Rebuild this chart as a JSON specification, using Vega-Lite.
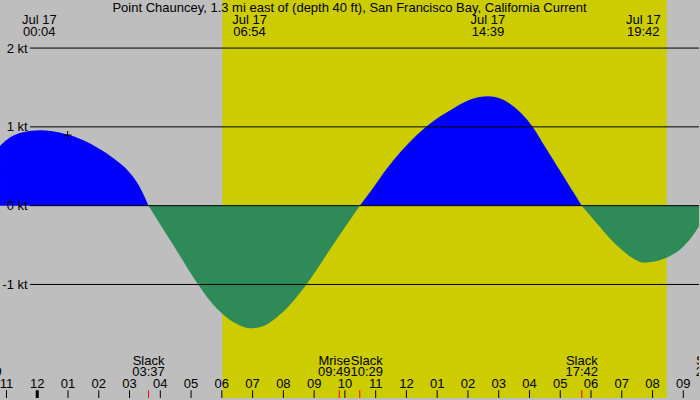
{
  "$schema": "https://vega.github.io/schema/vega-lite/v6.json",
  "width": 700,
  "height": 400,
  "padding": 0,
  "autosize": {"type": "fit", "contains": "padding"},
  "background": "#BEBEBE",
  "config": {"view": {"stroke": null}},
  "datasets": {
    "curve": [
      {"h": -1.21, "v": 0.758, "dir": "flood", "seg": "f1"},
      {"h": -0.89, "v": 0.864, "dir": "flood", "seg": "f1"},
      {"h": -0.5, "v": 0.928, "dir": "flood", "seg": "f1"},
      {"h": 0.09, "v": 0.956, "dir": "flood", "seg": "f1"},
      {"h": 0.5, "v": 0.943, "dir": "flood", "seg": "f1"},
      {"h": 0.95, "v": 0.905, "dir": "flood", "seg": "f1"},
      {"h": 1.5, "v": 0.83, "dir": "flood", "seg": "f1"},
      {"h": 2.0, "v": 0.725, "dir": "flood", "seg": "f1"},
      {"h": 2.5, "v": 0.595, "dir": "flood", "seg": "f1"},
      {"h": 3.0, "v": 0.42, "dir": "flood", "seg": "f1"},
      {"h": 3.3, "v": 0.26, "dir": "flood", "seg": "f1"},
      {"h": 3.617, "v": 0, "dir": "flood", "seg": "f1"},
      {"h": 3.617, "v": 0, "dir": "ebb", "seg": "e1"},
      {"h": 4.42, "v": -0.5, "dir": "ebb", "seg": "e1"},
      {"h": 5.23, "v": -1.0, "dir": "ebb", "seg": "e1"},
      {"h": 5.6, "v": -1.2, "dir": "ebb", "seg": "e1"},
      {"h": 6.04, "v": -1.38, "dir": "ebb", "seg": "e1"},
      {"h": 6.48, "v": -1.5, "dir": "ebb", "seg": "e1"},
      {"h": 6.9, "v": -1.557, "dir": "ebb", "seg": "e1"},
      {"h": 7.45, "v": -1.51, "dir": "ebb", "seg": "e1"},
      {"h": 7.88, "v": -1.386, "dir": "ebb", "seg": "e1"},
      {"h": 8.31, "v": -1.215, "dir": "ebb", "seg": "e1"},
      {"h": 8.75, "v": -1.0, "dir": "ebb", "seg": "e1"},
      {"h": 9.6, "v": -0.505, "dir": "ebb", "seg": "e1"},
      {"h": 10.483, "v": 0, "dir": "ebb", "seg": "e1"},
      {"h": 10.483, "v": 0, "dir": "flood", "seg": "f2"},
      {"h": 10.85, "v": 0.19, "dir": "flood", "seg": "f2"},
      {"h": 11.39, "v": 0.485, "dir": "flood", "seg": "f2"},
      {"h": 12.04, "v": 0.779, "dir": "flood", "seg": "f2"},
      {"h": 12.64, "v": 1.0, "dir": "flood", "seg": "f2"},
      {"h": 13.56, "v": 1.242, "dir": "flood", "seg": "f2"},
      {"h": 14.1, "v": 1.35, "dir": "flood", "seg": "f2"},
      {"h": 14.65, "v": 1.389, "dir": "flood", "seg": "f2"},
      {"h": 15.0, "v": 1.365, "dir": "flood", "seg": "f2"},
      {"h": 15.4, "v": 1.284, "dir": "flood", "seg": "f2"},
      {"h": 16.1, "v": 1.0, "dir": "flood", "seg": "f2"},
      {"h": 16.5, "v": 0.75, "dir": "flood", "seg": "f2"},
      {"h": 16.9, "v": 0.5, "dir": "flood", "seg": "f2"},
      {"h": 17.3, "v": 0.25, "dir": "flood", "seg": "f2"},
      {"h": 17.7, "v": 0, "dir": "flood", "seg": "f2"},
      {"h": 17.7, "v": 0, "dir": "ebb", "seg": "e2"},
      {"h": 18.2, "v": -0.23, "dir": "ebb", "seg": "e2"},
      {"h": 18.6, "v": -0.41, "dir": "ebb", "seg": "e2"},
      {"h": 19.0, "v": -0.56, "dir": "ebb", "seg": "e2"},
      {"h": 19.35, "v": -0.665, "dir": "ebb", "seg": "e2"},
      {"h": 19.72, "v": -0.723, "dir": "ebb", "seg": "e2"},
      {"h": 20.1, "v": -0.705, "dir": "ebb", "seg": "e2"},
      {"h": 20.54, "v": -0.645, "dir": "ebb", "seg": "e2"},
      {"h": 20.97, "v": -0.53, "dir": "ebb", "seg": "e2"},
      {"h": 21.25, "v": -0.41, "dir": "ebb", "seg": "e2"},
      {"h": 21.51, "v": -0.26, "dir": "ebb", "seg": "e2"}
    ],
    "hours": [
      {"h": -1, "lab": "11"}, {"h": 0, "lab": "12"}, {"h": 1, "lab": "01"}, {"h": 2, "lab": "02"},
      {"h": 3, "lab": "03"}, {"h": 4, "lab": "04"}, {"h": 5, "lab": "05"}, {"h": 6, "lab": "06"},
      {"h": 7, "lab": "07"}, {"h": 8, "lab": "08"}, {"h": 9, "lab": "09"}, {"h": 10, "lab": "10"},
      {"h": 11, "lab": "11"}, {"h": 12, "lab": "12"}, {"h": 13, "lab": "01"}, {"h": 14, "lab": "02"},
      {"h": 15, "lab": "03"}, {"h": 16, "lab": "04"}, {"h": 17, "lab": "05"}, {"h": 18, "lab": "06"},
      {"h": 19, "lab": "07"}, {"h": 20, "lab": "08"}, {"h": 21, "lab": "09"}
    ],
    "events": [
      {"h": -1.68, "name": "Mset", "time": "22:19", "shift": "none"},
      {"h": 3.617, "name": "Slack", "time": "03:37", "shift": "none"},
      {"h": 9.817, "name": "Mrise", "time": "09:49", "shift": "left"},
      {"h": 10.483, "name": "Slack", "time": "10:29", "shift": "right"},
      {"h": 17.7, "name": "Slack", "time": "17:42", "shift": "none"},
      {"h": 21.93, "name": "Slack", "time": "21:56", "shift": "none"}
    ],
    "peaks": [
      {"h": 0.067, "date": "Jul 17", "time": "00:04"},
      {"h": 6.9, "date": "Jul 17", "time": "06:54"},
      {"h": 14.65, "date": "Jul 17", "time": "14:39"},
      {"h": 19.7, "date": "Jul 17", "time": "19:42"}
    ],
    "levels": [
      {"kt": 2, "lab": "2 kt"}, {"kt": 1, "lab": "1 kt"}, {"kt": 0, "lab": "0 kt"}, {"kt": -1, "lab": "-1 kt"}
    ],
    "daylight": [{"rise": 6.017, "set": 20.46}],
    "title": [{"h": 10.15, "text": "Point Chauncey, 1.3 mi east of (depth 40 ft), San Francisco Bay, California Current"}],
    "marker": [{"h": 0.987, "v": 0.896}]
  },
  "layer": [
    {
      "data": {"name": "daylight"},
      "mark": {"type": "rect", "color": "#CCCC00"},
      "encoding": {
        "x": {"field": "rise", "type": "quantitative", "scale": {"domain": [-1.2107, 21.51], "nice": false, "zero": false}, "axis": null},
        "x2": {"field": "set"}
      }
    },
    {
      "data": {"name": "curve"},
      "mark": {"type": "area", "interpolate": "monotone", "clip": true},
      "encoding": {
        "x": {"field": "h", "type": "quantitative", "scale": {"domain": [-1.2107, 21.51], "nice": false, "zero": false}, "axis": null},
        "y": {"field": "v", "type": "quantitative", "stack": null, "scale": {"domain": [-2.441, 2.61], "nice": false, "zero": false}, "axis": null},
        "y2": {"datum": 0},
        "color": {"field": "dir", "type": "nominal", "scale": {"domain": ["flood", "ebb"], "range": ["#0000FF", "#2E8B57"]}, "legend": null},
        "detail": {"field": "seg"}
      }
    },
    {
      "data": {"name": "levels"},
      "mark": {"type": "rule", "color": "#000000", "strokeWidth": 1},
      "encoding": {
        "x": {"datum": -0.237, "type": "quantitative", "scale": {"domain": [-1.2107, 21.51], "nice": false, "zero": false}, "axis": null},
        "x2": {"datum": 21.51},
        "y": {"field": "kt", "type": "quantitative", "scale": {"domain": [-2.441, 2.61], "nice": false, "zero": false}, "axis": null}
      }
    },
    {
      "data": {"name": "levels"},
      "mark": {"type": "text", "font": "Liberation Sans", "fontSize": 13, "align": "right", "baseline": "alphabetic", "dy": 4.5, "color": "#000000"},
      "encoding": {
        "x": {"datum": -0.312, "type": "quantitative", "scale": {"domain": [-1.2107, 21.51], "nice": false, "zero": false}, "axis": null},
        "y": {"field": "kt", "type": "quantitative", "scale": {"domain": [-2.441, 2.61], "nice": false, "zero": false}, "axis": null},
        "text": {"field": "lab"}
      }
    },
    {
      "data": {"name": "title"},
      "mark": {"type": "text", "font": "Liberation Sans", "fontSize": 13, "align": "center", "baseline": "alphabetic", "color": "#000000"},
      "encoding": {
        "x": {"field": "h", "type": "quantitative", "scale": {"domain": [-1.2107, 21.51], "nice": false, "zero": false}, "axis": null},
        "y": {"datum": 2.462, "type": "quantitative", "scale": {"domain": [-2.441, 2.61], "nice": false, "zero": false}, "axis": null},
        "text": {"field": "text"}
      }
    },
    {
      "data": {"name": "peaks"},
      "mark": {"type": "text", "font": "Liberation Sans", "fontSize": 13, "align": "center", "baseline": "alphabetic", "color": "#000000"},
      "encoding": {
        "x": {"field": "h", "type": "quantitative", "scale": {"domain": [-1.2107, 21.51], "nice": false, "zero": false}, "axis": null},
        "y": {"datum": 2.307, "type": "quantitative", "scale": {"domain": [-2.441, 2.61], "nice": false, "zero": false}, "axis": null},
        "text": {"field": "date"}
      }
    },
    {
      "data": {"name": "peaks"},
      "mark": {"type": "text", "font": "Liberation Sans", "fontSize": 13, "align": "center", "baseline": "alphabetic", "color": "#000000"},
      "encoding": {
        "x": {"field": "h", "type": "quantitative", "scale": {"domain": [-1.2107, 21.51], "nice": false, "zero": false}, "axis": null},
        "y": {"datum": 2.159, "type": "quantitative", "scale": {"domain": [-2.441, 2.61], "nice": false, "zero": false}, "axis": null},
        "text": {"field": "time"}
      }
    },
    {
      "data": {"name": "hours"},
      "mark": {"type": "rule", "color": "#000000"},
      "encoding": {
        "x": {"field": "h", "type": "quantitative", "scale": {"domain": [-1.2107, 21.51], "nice": false, "zero": false}, "axis": null},
        "y": {"datum": -2.343, "type": "quantitative", "scale": {"domain": [-2.441, 2.61], "nice": false, "zero": false}, "axis": null},
        "y2": {"datum": -2.441},
        "strokeWidth": {"condition": {"test": "datum.h == 0", "value": 3}, "value": 1}
      }
    },
    {
      "data": {"name": "events"},
      "mark": {"type": "rule", "color": "#FF0000", "strokeWidth": 1, "clip": true},
      "encoding": {
        "x": {"field": "h", "type": "quantitative", "scale": {"domain": [-1.2107, 21.51], "nice": false, "zero": false}, "axis": null},
        "y": {"datum": -2.343, "type": "quantitative", "scale": {"domain": [-2.441, 2.61], "nice": false, "zero": false}, "axis": null},
        "y2": {"datum": -2.441}
      }
    },
    {
      "data": {"name": "hours"},
      "mark": {"type": "text", "font": "Liberation Sans", "fontSize": 13, "align": "center", "baseline": "alphabetic", "color": "#000000", "clip": true},
      "encoding": {
        "x": {"field": "h", "type": "quantitative", "scale": {"domain": [-1.2107, 21.51], "nice": false, "zero": false}, "axis": null},
        "y": {"datum": -2.314, "type": "quantitative", "scale": {"domain": [-2.441, 2.61], "nice": false, "zero": false}, "axis": null},
        "text": {"field": "lab"}
      }
    },
    {
      "data": {"name": "events"},
      "transform": [{"filter": "datum.shift == 'none'"}],
      "mark": {"type": "text", "font": "Liberation Sans", "fontSize": 13, "align": "center", "baseline": "alphabetic", "color": "#000000", "clip": true},
      "encoding": {
        "x": {"field": "h", "type": "quantitative", "scale": {"domain": [-1.2107, 21.51], "nice": false, "zero": false}, "axis": null},
        "y": {"datum": -2.02, "type": "quantitative", "scale": {"domain": [-2.441, 2.61], "nice": false, "zero": false}, "axis": null},
        "text": {"field": "name"}
      }
    },
    {
      "data": {"name": "events"},
      "transform": [{"filter": "datum.shift == 'none'"}],
      "mark": {"type": "text", "font": "Liberation Sans", "fontSize": 13, "align": "center", "baseline": "alphabetic", "color": "#000000", "clip": true},
      "encoding": {
        "x": {"field": "h", "type": "quantitative", "scale": {"domain": [-1.2107, 21.51], "nice": false, "zero": false}, "axis": null},
        "y": {"datum": -2.159, "type": "quantitative", "scale": {"domain": [-2.441, 2.61], "nice": false, "zero": false}, "axis": null},
        "text": {"field": "time"}
      }
    },
    {
      "data": {"name": "events"},
      "transform": [{"filter": "datum.shift == 'left'"}],
      "mark": {"type": "text", "font": "Liberation Sans", "fontSize": 13, "align": "center", "baseline": "alphabetic", "dx": -5, "color": "#000000"},
      "encoding": {
        "x": {"field": "h", "type": "quantitative", "scale": {"domain": [-1.2107, 21.51], "nice": false, "zero": false}, "axis": null},
        "y": {"datum": -2.02, "type": "quantitative", "scale": {"domain": [-2.441, 2.61], "nice": false, "zero": false}, "axis": null},
        "text": {"field": "name"}
      }
    },
    {
      "data": {"name": "events"},
      "transform": [{"filter": "datum.shift == 'left'"}],
      "mark": {"type": "text", "font": "Liberation Sans", "fontSize": 13, "align": "center", "baseline": "alphabetic", "dx": -5, "color": "#000000"},
      "encoding": {
        "x": {"field": "h", "type": "quantitative", "scale": {"domain": [-1.2107, 21.51], "nice": false, "zero": false}, "axis": null},
        "y": {"datum": -2.159, "type": "quantitative", "scale": {"domain": [-2.441, 2.61], "nice": false, "zero": false}, "axis": null},
        "text": {"field": "time"}
      }
    },
    {
      "data": {"name": "events"},
      "transform": [{"filter": "datum.shift == 'right'"}],
      "mark": {"type": "text", "font": "Liberation Sans", "fontSize": 13, "align": "center", "baseline": "alphabetic", "dx": 7, "color": "#000000"},
      "encoding": {
        "x": {"field": "h", "type": "quantitative", "scale": {"domain": [-1.2107, 21.51], "nice": false, "zero": false}, "axis": null},
        "y": {"datum": -2.02, "type": "quantitative", "scale": {"domain": [-2.441, 2.61], "nice": false, "zero": false}, "axis": null},
        "text": {"field": "name"}
      }
    },
    {
      "data": {"name": "events"},
      "transform": [{"filter": "datum.shift == 'right'"}],
      "mark": {"type": "text", "font": "Liberation Sans", "fontSize": 13, "align": "center", "baseline": "alphabetic", "dx": 7, "color": "#000000"},
      "encoding": {
        "x": {"field": "h", "type": "quantitative", "scale": {"domain": [-1.2107, 21.51], "nice": false, "zero": false}, "axis": null},
        "y": {"datum": -2.159, "type": "quantitative", "scale": {"domain": [-2.441, 2.61], "nice": false, "zero": false}, "axis": null},
        "text": {"field": "time"}
      }
    },
    {
      "data": {"name": "marker"},
      "mark": {"type": "point", "shape": "M -1 0 L 1 0 M 0 -1 L 0 1", "filled": false, "stroke": "#000000", "strokeWidth": 1, "size": 64, "opacity": 1},
      "encoding": {
        "x": {"field": "h", "type": "quantitative", "scale": {"domain": [-1.2107, 21.51], "nice": false, "zero": false}, "axis": null},
        "y": {"field": "v", "type": "quantitative", "scale": {"domain": [-2.441, 2.61], "nice": false, "zero": false}, "axis": null}
      }
    }
  ]
}
